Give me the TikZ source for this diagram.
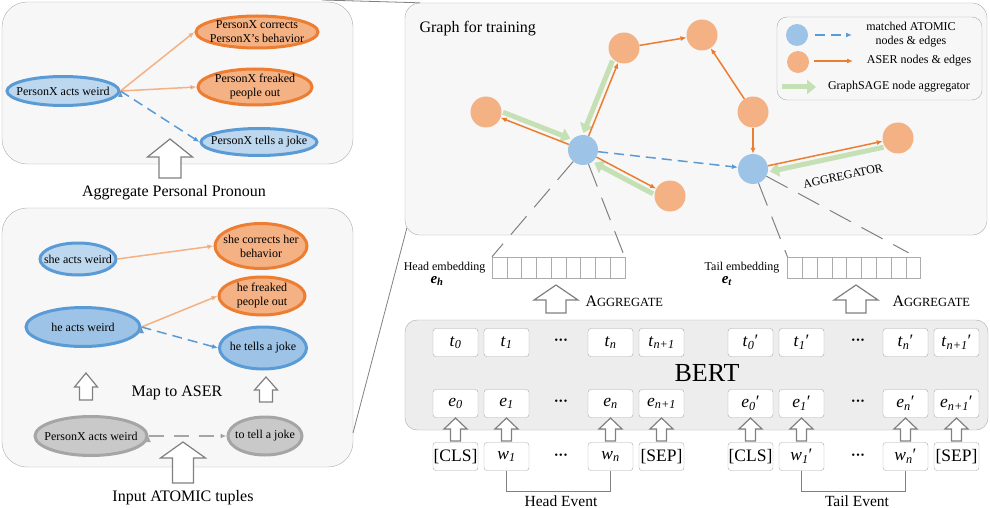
\documentclass[tikz,border=0pt]{standalone}
\usepackage{fontspec}
\setmainfont{Liberation Serif}
\usetikzlibrary{positioning, calc, arrows.meta, shapes.geometric, shapes.multipart}

\definecolor{panelgray}{HTML}{F7F7F7}
\definecolor{edgegray}{HTML}{ABABAB}
\definecolor{bertgray}{HTML}{EDEDED}
\definecolor{lightblue}{HTML}{BDD7EE}
\definecolor{midblue}{HTML}{9DC3E6}
\definecolor{darkblue}{HTML}{5B9BD5}
\definecolor{lightorange}{HTML}{F4B183}
\definecolor{darkorange}{HTML}{ED7D31}
\definecolor{nodegray}{HTML}{C9C9C9}
\definecolor{bordergray}{HTML}{A5A5A5}
\definecolor{sagegreen}{HTML}{C5E0B4}
\definecolor{linegray}{HTML}{808080}

\newcommand{\tk}[2]{\textit{#1}\textsubscript{\textit{#2}}}
\newcommand{\aggword}{{\fontsize{16}{16}\selectfont A}{\fontsize{12.5}{12.5}\selectfont GGREGATE}}
\newcommand{\dotsrow}{{\fontsize{10}{10}\selectfont •\kern1.2pt•\kern1.2pt•}}
% hollow up arrow: x, bottom, head base, top, shaft half width, head half width
\newcommand{\blockup}[6]{\draw[hollow] (#1-#5,#2) -- (#1-#5,#3) -- (#1-#6,#3) -- (#1,#4) -- (#1+#6,#3) -- (#1+#5,#3) -- (#1+#5,#2) -- cycle;}
% fat aggregator arrow next to an edge
\newcommand{\sagearrow}[4]{\draw[sage] ($(#1)!16pt!(#2)!6pt!#3:(#2)$) -- ($(#2)!16pt!(#1)!6pt!#4:(#1)$);}

\tikzset{
    panel/.style={draw=edgegray, fill=panelgray, rounded corners=#1, inner sep=0pt},
    panel/.default=15pt,
    event/.style={ellipse, line width=3pt, inner xsep=-25pt, inner ysep=-6pt, align=center, font=\fontsize{12}{14}\selectfont},
    atomic/.style={event, draw=darkblue, fill=lightblue},
    aser/.style={event, draw=darkorange, fill=lightorange},
    raw/.style={event, draw=bordergray, fill=nodegray},
    atomicpt/.style={circle, fill=midblue, minimum size=30pt, inner sep=0pt},
    aserpt/.style={circle, fill=lightorange, minimum size=31pt, inner sep=0pt},
    pronedge/.style={->, draw=lightorange, line width=1.5pt},
    aseredge/.style={->, draw=darkorange, line width=1.5pt},
    matched/.style={->, draw=darkblue, line width=1.5pt, dash pattern=on 10pt off 6pt},
    rawedge/.style={->, draw=bordergray, line width=1.5pt, dash pattern=on 15pt off 10pt},
    sage/.style={draw=sagegreen, line width=5pt, -{Triangle[length=9pt, width=14pt]}},
    proj/.style={draw=linegray, line width=1pt, dash pattern=on 24pt off 12pt},
    zoomline/.style={draw=linegray, line width=0.8pt},
    bracket/.style={draw=linegray, line width=1pt},
    hollow/.style={draw=linegray, fill=white, line width=1.2pt},
    tok/.style={draw=edgegray, fill=white, rounded corners=3pt, minimum width=45pt, minimum height=28pt, inner sep=0pt, font=\fontsize{17.5}{17.5}\selectfont},
    embbox/.style={draw=edgegray, fill=white, rectangle split, rectangle split horizontal, rectangle split parts=9, rectangle split empty part width=9.8pt, rectangle split empty part height=21pt, rectangle split empty part depth=0pt, inner sep=0pt},
    bigtext/.style={font=\fontsize{16}{18}\selectfont},
    smalltext/.style={font=\fontsize{12}{14}\selectfont, align=center},
}

\begin{document}
\begin{tikzpicture}[x=1pt, y=-1pt, >={Latex[length=6pt, width=5pt]}, node distance=51pt, on grid]
    \useasboundingbox (0,0) rectangle (990,508);
    % Define the panels
    \node[panel=25pt, minimum width=351pt, minimum height=162pt] (pronoun) at (177.5,83) {};
    \node[panel=25pt, minimum width=351pt, minimum height=259pt] (mapping) at (177.5,337.5) {};
    \node[panel=15pt, minimum width=582pt, minimum height=232pt] (graph) at (696,119) {};
    \node[panel=10pt, minimum width=205pt, minimum height=83pt] (legend) at (879.5,58.5) {};
    \node[panel=12pt, fill=bertgray, minimum width=583pt, minimum height=110pt] (bert) at (696.5,375) {};
    \coordinate (zoomtop) at (322,0);
    \coordinate (zoombot) at (353,433);
    \draw[zoomline] (zoomtop) -- ([xshift=15pt]graph.north west);
    \draw[zoomline] (zoombot) -- ([xshift=2pt, yshift=7pt]graph.south west);

    % Aggregate personal pronoun
    \node[atomic, minimum width=112pt, minimum height=29pt] (px) at (63,91) {PersonX acts weird};
    \node[aser, minimum width=122pt, minimum height=32pt] (pxc) at (257,32) {PersonX corrects\\PersonX's behavior};
    \node[aser, minimum width=114pt, minimum height=36pt] (pxf) at (255,87) {PersonX freaked\\people out};
    \node[atomic, minimum width=116pt, minimum height=27pt] (pxt) at (259,142) {PersonX tells a joke};
    \path[pronedge] (px.east) edge (pxc.west) (px.east) edge (pxf.west);
    \path[matched] (px.east) edge (pxt.west);
    \blockup{170}{178}{157}{139}{11}{22.5}
    \node[bigtext] (pronountitle) at (174,193) {Aggregate Personal Pronoun};

    % Map to ASER
    \node[atomic, minimum width=76pt, minimum height=32pt] (she) at (78,259) {she acts weird};
    \node[aser, minimum width=92pt, minimum height=45pt] (shec) at (261,246) {she corrects her\\behavior};
    \node[aser, minimum width=86pt, minimum height=38pt] (hef) at (262,296) {he freaked\\people out};
    \node[atomic, fill=midblue, minimum width=114pt, minimum height=39pt] (he) at (83,327) {he acts weird};
    \node[atomic, fill=midblue, minimum width=87pt, minimum height=42pt] (het) at (263,348) {he tells a joke};
    \node[raw, minimum width=112pt, minimum height=39pt] (rawh) at (91,436) {PersonX acts weird};
    \node[raw, minimum width=74pt, minimum height=38pt] (rawt) at (265,436) {to tell a joke};
    \path[pronedge] (she.east) edge (shec.west) (he.east) edge (hef.west);
    \path[matched] (he.east) edge (het.west);
    \path[rawedge] (rawh.east) edge (rawt.west);
    \blockup{86}{400}{387}{373}{6.5}{11.5}
    \blockup{266}{402}{390}{377}{6.5}{11.5}
    \blockup{183}{483}{458}{442}{10.5}{22.5}
    \node[bigtext] (maptitle) at (177,393) {Map to ASER};
    \node[bigtext] (inputtitle) at (183,498) {Input ATOMIC tuples};

    % Graph for training
    \node[bigtext, anchor=west] (graphtitle) at (416,29) {Graph for training};
    \node[atomicpt] (head) at (583,150) {};
    \node[atomicpt] (tail) at (753,169) {};
    \node[aserpt] (a1) at (486,112) {};
    \node[aserpt] (a2) at (624,48) {};
    \node[aserpt] (a3) at (702,35) {};
    \node[aserpt] (a4) at (753,112) {};
    \node[aserpt] (a5) at (898,138) {};
    \node[aserpt] (a6) at (670,196) {};
    \sagearrow{a1}{head}{90}{-90}
    \sagearrow{a2}{head}{-90}{90}
    \sagearrow{a6}{head}{90}{-90}
    \sagearrow{a5}{tail}{90}{-90}
    \path[aseredge]
    (head) edge (a1)
    (head) edge (a2)
    (a2) edge (a3)
    (a4) edge (a3)
    (a4) edge (tail)
    (head) edge (a6)
    (tail) edge (a5);
    \path[matched] (head) edge (tail);
    \node[smalltext, rotate=12] (aggtag) at (843,176) {AGGREGATOR};

    % Legend
    \node[atomicpt, minimum size=22pt] (lblue) at (797,35) {};
    \node[aserpt, minimum size=22pt] (lorange) at (798,62) {};
    \coordinate (lb1) at (815,35);
    \coordinate (lb2) at (852,35);
    \coordinate (lo1) at (814,61);
    \coordinate (lo2) at (853,61);
    \coordinate (lg1) at (782,87);
    \coordinate (lg2) at (816,87);
    \draw[matched] (lb1) -- (lb2);
    \draw[aseredge] (lo1) -- (lo2);
    \draw[sage] (lg1) -- (lg2);
    \node[smalltext] (ltext1) at (911,34.5) {matched ATOMIC\\nodes \& edges};
    \node[smalltext] (ltext2) at (919,61) {ASER nodes \& edges};
    \node[smalltext] (ltext3) at (899,87) {GraphSAGE node aggregator};

    % Embeddings
    \node[embbox] (hemb) at (558.5,267.5) {};
    \node[embbox] (temb) at (854,267.5) {};
    \draw[proj] (head) -- (hemb.north west);
    \draw[proj] (head) -- ([xshift=-2pt, yshift=4pt]hemb.north east);
    \draw[proj] (tail) -- (temb.north west);
    \draw[proj] (tail) -- ([xshift=-12pt, yshift=4pt]temb.north east);
    \node[smalltext, anchor=east] (hembtext) at (489,268) {Head embedding};
    \node[font=\fontsize{15}{15}\selectfont] (eh) at (437,281) {\textbf{\textit{e}}\textsubscript{\textbf{\textit{h}}}};
    \node[smalltext, anchor=east] (tembtext) at (783,268) {Tail embedding};
    \node[font=\fontsize{15}{15}\selectfont] (et) at (727,281) {\textbf{\textit{e}}\textsubscript{\textbf{\textit{t}}}};
    \blockup{556}{313}{300}{285}{10}{22}
    \blockup{856}{313}{300}{285}{10}{22}
    \node[anchor=west] (aggh) at (582,301) {\aggword};
    \node[anchor=west] (aggt) at (889,301) {\aggword};

    % BERT
    \node[font=\fontsize{26}{26}\selectfont] (berttitle) at (707,373) {BERT};
    \node[tok] (t0) at (455.5,342.5) {\tk{t}{0}};
    \node[tok] (t1) [right=of t0] {\tk{t}{1}};
    \node (tdots) at (561,341) {\dotsrow};
    \node[tok] (tn) at (610.5,342.5) {\tk{t}{n}};
    \node[tok] (tn1) [right=of tn] {\tk{t}{n+1}};
    \node[tok] (t0x) at (750.5,342.5) {\tk{t}{0}′};
    \node[tok] (t1x) [right=of t0x] {\tk{t}{1}′};
    \node (txdots) at (858,341) {\dotsrow};
    \node[tok] (tnx) at (905.5,342.5) {\tk{t}{n}′};
    \node[tok] (tn1x) [right=of tnx] {\tk{t}{n+1}′};

    \node[tok] (e0) [below=61pt of t0] {\tk{e}{0}};
    \node[tok] (e1) [below=61pt of t1] {\tk{e}{1}};
    \node (edots) [below=61pt of tdots] {\dotsrow};
    \node[tok] (en) [below=61pt of tn] {\tk{e}{n}};
    \node[tok] (en1) [below=61pt of tn1] {\tk{e}{n+1}};
    \node[tok] (e0x) [below=61pt of t0x] {\tk{e}{0}′};
    \node[tok] (e1x) [below=61pt of t1x] {\tk{e}{1}′};
    \node (exdots) [below=61pt of txdots] {\dotsrow};
    \node[tok] (enx) [below=61pt of tnx] {\tk{e}{n}′};
    \node[tok] (en1x) [below=61pt of tn1x] {\tk{e}{n+1}′};

    \node[tok] (cls) [below=53pt of e0] {[CLS]};
    \node[tok] (w1) [below=53pt of e1] {\tk{w}{1}};
    \node (wdots) [below=54pt of edots] {\dotsrow};
    \node[tok] (wn) [below=53pt of en] {\tk{w}{n}};
    \node[tok] (sep) [below=53pt of en1] {[SEP]};
    \node[tok] (clsx) [below=53pt of e0x] {[CLS]};
    \node[tok] (w1x) [below=53pt of e1x] {\tk{w}{1}′};
    \node (wxdots) [below=54pt of exdots] {\dotsrow};
    \node[tok] (wnx) [below=53pt of enx] {\tk{w}{n}′};
    \node[tok] (sepx) [below=53pt of en1x] {[SEP]};

    \blockup{455.5}{441}{429}{418}{5}{11.5}
    \blockup{506.5}{441}{429}{418}{5}{11.5}
    \blockup{610.5}{441}{429}{418}{5}{11.5}
    \blockup{661.5}{441}{429}{418}{5}{11.5}
    \blockup{750.5}{441}{429}{418}{5}{11.5}
    \blockup{801.5}{441}{429}{418}{5}{11.5}
    \blockup{905.5}{441}{429}{418}{5}{11.5}
    \blockup{956.5}{441}{429}{418}{5}{11.5}

    % Events
    \draw[bracket] (w1.south) -- ++(0,21) -| (wn.south);
    \draw[bracket] (w1x.south) -- ++(0,21) -| (wnx.south);
    \node[font=\fontsize{15.5}{16}\selectfont] (headevent) at (561,501) {Head Event};
    \node[font=\fontsize{15.5}{16}\selectfont] (tailevent) at (857,501) {Tail Event};
\end{tikzpicture}
\end{document}
